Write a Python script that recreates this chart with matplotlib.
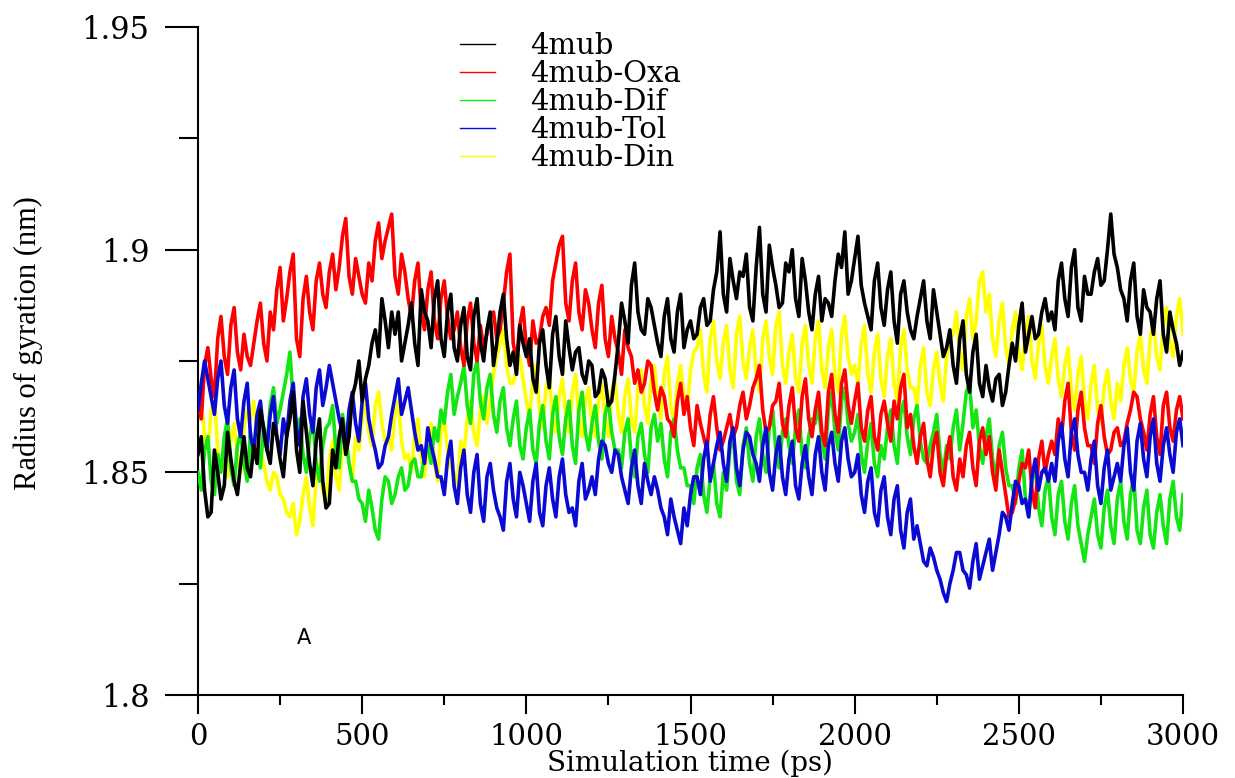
import matplotlib
matplotlib.use("Agg")
import matplotlib.pyplot as plt
from matplotlib.ticker import MultipleLocator

# simulation time (ps), one frame every 10 ps
time_ps = list(range(0, 3001, 10))

rg_4mub = [
    1.854, 1.858, 1.846, 1.840, 1.841, 1.855, 1.850, 1.844, 1.847, 1.859, 1.853, 1.848, 1.845, 1.852, 1.858, 1.851, 1.849, 1.856, 1.852, 1.864,
    1.860, 1.855, 1.852, 1.861, 1.858, 1.853, 1.849, 1.858, 1.862, 1.868, 1.855, 1.850, 1.866, 1.859, 1.852, 1.847, 1.857, 1.862, 1.848, 1.842,
    1.843, 1.855, 1.851, 1.858, 1.862, 1.854, 1.858, 1.867, 1.870, 1.875, 1.866, 1.871, 1.874, 1.879, 1.882, 1.876, 1.889, 1.884, 1.878, 1.886,
    1.881, 1.886, 1.875, 1.879, 1.883, 1.888, 1.879, 1.874, 1.891, 1.886, 1.884, 1.878, 1.889, 1.893, 1.880, 1.876, 1.886, 1.890, 1.878, 1.875,
    1.883, 1.887, 1.876, 1.873, 1.885, 1.889, 1.879, 1.875, 1.882, 1.886, 1.874, 1.879, 1.886, 1.890, 1.880, 1.874, 1.877, 1.872, 1.883, 1.879,
    1.876, 1.880, 1.871, 1.868, 1.879, 1.882, 1.874, 1.869, 1.881, 1.885, 1.876, 1.872, 1.884, 1.878, 1.873, 1.877, 1.878, 1.872, 1.870, 1.875,
    1.874, 1.867, 1.868, 1.873, 1.871, 1.865, 1.866, 1.872, 1.879, 1.888, 1.884, 1.879, 1.892, 1.897, 1.886, 1.882, 1.881, 1.889, 1.887, 1.883,
    1.879, 1.876, 1.885, 1.889, 1.880, 1.877, 1.886, 1.890, 1.878, 1.882, 1.884, 1.880, 1.881, 1.887, 1.889, 1.883, 1.884, 1.891, 1.895, 1.904,
    1.890, 1.886, 1.898, 1.893, 1.889, 1.895, 1.894, 1.899, 1.887, 1.884, 1.896, 1.905, 1.890, 1.886, 1.901, 1.896, 1.892, 1.887, 1.888, 1.897,
    1.895, 1.900, 1.889, 1.885, 1.898, 1.893, 1.886, 1.882, 1.890, 1.894, 1.884, 1.889, 1.888, 1.885, 1.893, 1.899, 1.896, 1.904, 1.890, 1.893,
    1.898, 1.903, 1.892, 1.888, 1.885, 1.882, 1.893, 1.897, 1.887, 1.883, 1.891, 1.895, 1.884, 1.879, 1.890, 1.893, 1.886, 1.882, 1.880, 1.885,
    1.889, 1.893, 1.884, 1.880, 1.891, 1.886, 1.881, 1.876, 1.878, 1.882, 1.874, 1.870, 1.880, 1.884, 1.872, 1.868, 1.877, 1.881, 1.870, 1.867,
    1.874, 1.869, 1.866, 1.871, 1.872, 1.865, 1.868, 1.874, 1.879, 1.875, 1.883, 1.888, 1.877, 1.881, 1.885, 1.880, 1.881, 1.886, 1.889, 1.884,
    1.886, 1.882, 1.893, 1.897, 1.889, 1.885, 1.896, 1.900, 1.887, 1.884, 1.894, 1.890, 1.890, 1.895, 1.898, 1.892, 1.893, 1.900, 1.908, 1.899,
    1.896, 1.891, 1.889, 1.884, 1.893, 1.897, 1.885, 1.881, 1.891, 1.887, 1.886, 1.881, 1.889, 1.893, 1.881, 1.877, 1.886, 1.882, 1.879, 1.874,
    1.877,
]

rg_oxa = [
    1.866, 1.862, 1.874, 1.878, 1.871, 1.867, 1.880, 1.885, 1.876, 1.872, 1.883, 1.887, 1.877, 1.873, 1.881, 1.876, 1.874, 1.879, 1.884, 1.888,
    1.879, 1.875, 1.886, 1.882, 1.891, 1.896, 1.884, 1.889, 1.895, 1.899, 1.880, 1.876, 1.889, 1.894, 1.886, 1.882, 1.893, 1.897, 1.890, 1.887,
    1.895, 1.899, 1.891, 1.896, 1.903, 1.907, 1.894, 1.890, 1.898, 1.894, 1.890, 1.888, 1.897, 1.893, 1.902, 1.906, 1.898, 1.902, 1.905, 1.908,
    1.894, 1.890, 1.899, 1.895, 1.889, 1.885, 1.893, 1.897, 1.886, 1.882, 1.891, 1.895, 1.884, 1.880, 1.889, 1.893, 1.885, 1.880, 1.882, 1.886,
    1.878, 1.874, 1.884, 1.888, 1.879, 1.875, 1.883, 1.878, 1.881, 1.885, 1.886, 1.880, 1.882, 1.888, 1.895, 1.899, 1.879, 1.875, 1.883, 1.887,
    1.878, 1.874, 1.884, 1.879, 1.880, 1.885, 1.887, 1.883, 1.893, 1.897, 1.901, 1.903, 1.888, 1.884, 1.893, 1.897, 1.886, 1.882, 1.891, 1.888,
    1.882, 1.878, 1.888, 1.892, 1.880, 1.876, 1.885, 1.880, 1.877, 1.872, 1.882, 1.878, 1.876, 1.870, 1.873, 1.868, 1.870, 1.875, 1.874, 1.868,
    1.864, 1.869, 1.867, 1.862, 1.861, 1.858, 1.866, 1.870, 1.863, 1.867, 1.860, 1.856, 1.865, 1.861, 1.858, 1.855, 1.863, 1.867, 1.860, 1.855,
    1.857, 1.860, 1.863, 1.858, 1.860, 1.865, 1.868, 1.862, 1.865, 1.869, 1.871, 1.874, 1.864, 1.859, 1.860, 1.865, 1.866, 1.870, 1.861, 1.858,
    1.865, 1.869, 1.860, 1.857, 1.867, 1.871, 1.862, 1.858, 1.864, 1.868, 1.859, 1.856, 1.868, 1.872, 1.863, 1.859, 1.870, 1.873, 1.865, 1.861,
    1.866, 1.870, 1.860, 1.857, 1.864, 1.867, 1.858, 1.855, 1.863, 1.866, 1.861, 1.857, 1.866, 1.862, 1.869, 1.872, 1.860, 1.863, 1.856, 1.852,
    1.858, 1.861, 1.853, 1.849, 1.856, 1.859, 1.850, 1.847, 1.854, 1.858, 1.849, 1.846, 1.853, 1.849, 1.856, 1.859, 1.851, 1.847, 1.857, 1.860,
    1.854, 1.858, 1.850, 1.846, 1.855, 1.850, 1.845, 1.840, 1.841, 1.844, 1.848, 1.852, 1.851, 1.855, 1.846, 1.842, 1.853, 1.857, 1.850, 1.854,
    1.857, 1.854, 1.862, 1.858, 1.866, 1.870, 1.859, 1.855, 1.864, 1.868, 1.860, 1.856, 1.856, 1.852, 1.861, 1.865, 1.858, 1.854, 1.855, 1.859,
    1.860, 1.856, 1.857, 1.861, 1.864, 1.868, 1.867, 1.862, 1.859, 1.855, 1.863, 1.867, 1.858, 1.854, 1.865, 1.868, 1.860, 1.857, 1.864, 1.867,
    1.862,
]

rg_dif = [
    1.850, 1.846, 1.855, 1.858, 1.848, 1.845, 1.854, 1.850, 1.858, 1.862, 1.851, 1.847, 1.856, 1.859, 1.852, 1.848, 1.859, 1.854, 1.855, 1.851,
    1.860, 1.856, 1.865, 1.869, 1.861, 1.864, 1.868, 1.872, 1.877, 1.866, 1.858, 1.862, 1.854, 1.850, 1.858, 1.862, 1.852, 1.848, 1.856, 1.860,
    1.861, 1.865, 1.855, 1.851, 1.863, 1.858, 1.852, 1.848, 1.848, 1.844, 1.843, 1.839, 1.846, 1.842, 1.837, 1.835, 1.844, 1.849, 1.848, 1.843,
    1.845, 1.849, 1.851, 1.846, 1.847, 1.852, 1.853, 1.849, 1.849, 1.854, 1.856, 1.852, 1.860, 1.857, 1.864, 1.861, 1.868, 1.872, 1.863, 1.867,
    1.870, 1.874, 1.865, 1.861, 1.872, 1.875, 1.866, 1.862, 1.869, 1.872, 1.863, 1.859, 1.866, 1.869, 1.860, 1.856, 1.862, 1.866, 1.856, 1.853,
    1.860, 1.864, 1.855, 1.852, 1.861, 1.865, 1.857, 1.853, 1.863, 1.867, 1.858, 1.854, 1.862, 1.866, 1.856, 1.852, 1.864, 1.868, 1.859, 1.855,
    1.861, 1.865, 1.857, 1.853, 1.863, 1.866, 1.859, 1.855, 1.855, 1.851, 1.859, 1.862, 1.853, 1.849, 1.858, 1.861, 1.854, 1.850, 1.860, 1.863,
    1.857, 1.861, 1.853, 1.849, 1.859, 1.862, 1.855, 1.851, 1.851, 1.847, 1.847, 1.843, 1.851, 1.854, 1.845, 1.841, 1.849, 1.852, 1.843, 1.840,
    1.850, 1.846, 1.855, 1.859, 1.848, 1.845, 1.856, 1.860, 1.852, 1.848, 1.858, 1.862, 1.854, 1.850, 1.860, 1.864, 1.855, 1.851, 1.859, 1.862,
    1.856, 1.852, 1.860, 1.864, 1.854, 1.851, 1.858, 1.862, 1.861, 1.865, 1.857, 1.853, 1.864, 1.868, 1.859, 1.855, 1.866, 1.869, 1.861, 1.857,
    1.859, 1.863, 1.854, 1.850, 1.857, 1.861, 1.852, 1.849, 1.856, 1.853, 1.860, 1.864, 1.856, 1.852, 1.863, 1.866, 1.858, 1.854, 1.862, 1.865,
    1.857, 1.853, 1.852, 1.856, 1.859, 1.863, 1.854, 1.850, 1.856, 1.853, 1.860, 1.864, 1.855, 1.861, 1.868, 1.870, 1.860, 1.864, 1.856, 1.852,
    1.858, 1.862, 1.853, 1.849, 1.856, 1.859, 1.851, 1.847, 1.847, 1.843, 1.851, 1.855, 1.844, 1.840, 1.848, 1.852, 1.842, 1.838, 1.846, 1.849,
    1.840, 1.836, 1.845, 1.848, 1.839, 1.835, 1.843, 1.847, 1.838, 1.834, 1.830, 1.836, 1.840, 1.844, 1.836, 1.833, 1.842, 1.846, 1.838, 1.834,
    1.844, 1.848, 1.839, 1.835, 1.845, 1.849, 1.837, 1.834, 1.842, 1.846, 1.836, 1.833, 1.841, 1.845, 1.838, 1.834, 1.844, 1.848, 1.840, 1.837,
    1.845,
]

rg_tol = [
    1.864, 1.870, 1.875, 1.871, 1.867, 1.863, 1.871, 1.875, 1.865, 1.861, 1.869, 1.873, 1.862, 1.858, 1.866, 1.870, 1.858, 1.855, 1.863, 1.866,
    1.859, 1.855, 1.863, 1.867, 1.858, 1.854, 1.862, 1.858, 1.866, 1.870, 1.860, 1.856, 1.867, 1.871, 1.863, 1.859, 1.869, 1.873, 1.865, 1.869,
    1.874, 1.870, 1.866, 1.862, 1.859, 1.855, 1.864, 1.868, 1.861, 1.857, 1.866, 1.870, 1.862, 1.858, 1.855, 1.851, 1.852, 1.856, 1.858, 1.863,
    1.867, 1.871, 1.863, 1.866, 1.869, 1.864, 1.859, 1.855, 1.856, 1.852, 1.860, 1.856, 1.853, 1.849, 1.849, 1.845, 1.853, 1.857, 1.847, 1.843,
    1.851, 1.855, 1.845, 1.841, 1.850, 1.854, 1.843, 1.839, 1.849, 1.852, 1.846, 1.842, 1.840, 1.837, 1.848, 1.852, 1.844, 1.840, 1.850, 1.847,
    1.843, 1.839, 1.848, 1.852, 1.841, 1.838, 1.847, 1.851, 1.844, 1.840, 1.849, 1.853, 1.845, 1.841, 1.842, 1.838, 1.848, 1.852, 1.844, 1.846,
    1.849, 1.845, 1.853, 1.857, 1.856, 1.852, 1.850, 1.855, 1.854, 1.849, 1.846, 1.843, 1.851, 1.855, 1.847, 1.843, 1.852, 1.848, 1.845, 1.849,
    1.846, 1.842, 1.840, 1.836, 1.844, 1.840, 1.837, 1.834, 1.842, 1.838, 1.845, 1.849, 1.849, 1.845, 1.853, 1.857, 1.848, 1.852, 1.856, 1.859,
    1.852, 1.848, 1.857, 1.860, 1.851, 1.847, 1.855, 1.859, 1.858, 1.854, 1.852, 1.848, 1.856, 1.860, 1.850, 1.846, 1.854, 1.858, 1.849, 1.845,
    1.853, 1.857, 1.847, 1.844, 1.852, 1.856, 1.849, 1.845, 1.854, 1.858, 1.850, 1.846, 1.856, 1.859, 1.852, 1.848, 1.857, 1.860, 1.853, 1.849,
    1.850, 1.854, 1.845, 1.841, 1.848, 1.851, 1.841, 1.838, 1.846, 1.849, 1.840, 1.836, 1.844, 1.847, 1.837, 1.833, 1.841, 1.844, 1.835, 1.838,
    1.834, 1.830, 1.829, 1.833, 1.831, 1.828, 1.826, 1.823, 1.821, 1.825, 1.828, 1.832, 1.832, 1.828, 1.827, 1.824, 1.830, 1.834, 1.826, 1.829,
    1.832, 1.835, 1.828, 1.832, 1.836, 1.841, 1.840, 1.837, 1.843, 1.848, 1.847, 1.843, 1.844, 1.840, 1.849, 1.853, 1.846, 1.850, 1.851, 1.848,
    1.852, 1.848, 1.857, 1.861, 1.853, 1.849, 1.859, 1.862, 1.854, 1.850, 1.850, 1.846, 1.853, 1.857, 1.847, 1.843, 1.851, 1.855, 1.846, 1.849,
    1.852, 1.848, 1.856, 1.860, 1.850, 1.846, 1.857, 1.861, 1.853, 1.849, 1.858, 1.862, 1.852, 1.848, 1.856, 1.860, 1.854, 1.850, 1.859, 1.862,
    1.856,
]

rg_din = [
    1.862, 1.866, 1.858, 1.855, 1.864, 1.867, 1.855, 1.851, 1.852, 1.849, 1.857, 1.861, 1.854, 1.850, 1.860, 1.864, 1.862, 1.866, 1.858, 1.855,
    1.852, 1.848, 1.846, 1.850, 1.849, 1.845, 1.844, 1.841, 1.840, 1.843, 1.836, 1.839, 1.845, 1.849, 1.842, 1.838, 1.849, 1.852, 1.846, 1.843,
    1.853, 1.857, 1.849, 1.846, 1.856, 1.859, 1.852, 1.848, 1.858, 1.855, 1.862, 1.866, 1.859, 1.856, 1.865, 1.868, 1.861, 1.857, 1.858, 1.855,
    1.863, 1.866, 1.857, 1.853, 1.854, 1.850, 1.859, 1.862, 1.853, 1.849, 1.857, 1.861, 1.852, 1.848, 1.859, 1.862, 1.855, 1.851, 1.850, 1.847,
    1.857, 1.854, 1.862, 1.866, 1.859, 1.856, 1.864, 1.867, 1.861, 1.866, 1.872, 1.876, 1.879, 1.882, 1.874, 1.870, 1.870, 1.873, 1.876, 1.871,
    1.866, 1.862, 1.871, 1.874, 1.864, 1.860, 1.869, 1.872, 1.862, 1.859, 1.867, 1.871, 1.863, 1.859, 1.868, 1.872, 1.862, 1.858, 1.866, 1.869,
    1.861, 1.858, 1.866, 1.870, 1.862, 1.858, 1.868, 1.871, 1.863, 1.859, 1.867, 1.871, 1.862, 1.859, 1.869, 1.873, 1.865, 1.861, 1.871, 1.874,
    1.866, 1.862, 1.872, 1.876, 1.865, 1.861, 1.870, 1.874, 1.867, 1.864, 1.873, 1.877, 1.878, 1.882, 1.872, 1.868, 1.880, 1.884, 1.875, 1.871,
    1.879, 1.883, 1.873, 1.869, 1.881, 1.885, 1.875, 1.871, 1.878, 1.882, 1.872, 1.868, 1.880, 1.884, 1.876, 1.872, 1.883, 1.886, 1.874, 1.870,
    1.877, 1.881, 1.871, 1.868, 1.879, 1.883, 1.874, 1.870, 1.880, 1.884, 1.873, 1.869, 1.878, 1.882, 1.872, 1.868, 1.881, 1.885, 1.876, 1.872,
    1.874, 1.870, 1.879, 1.883, 1.872, 1.868, 1.877, 1.881, 1.871, 1.867, 1.876, 1.880, 1.870, 1.866, 1.878, 1.882, 1.873, 1.869, 1.869, 1.865,
    1.874, 1.878, 1.868, 1.865, 1.873, 1.877, 1.870, 1.866, 1.876, 1.880, 1.881, 1.886, 1.877, 1.873, 1.885, 1.889, 1.880, 1.884, 1.893, 1.895,
    1.886, 1.890, 1.880, 1.876, 1.884, 1.888, 1.878, 1.874, 1.882, 1.886, 1.877, 1.873, 1.881, 1.885, 1.875, 1.871, 1.879, 1.883, 1.874, 1.870,
    1.876, 1.880, 1.871, 1.867, 1.874, 1.878, 1.868, 1.864, 1.872, 1.876, 1.866, 1.862, 1.870, 1.874, 1.864, 1.861, 1.869, 1.873, 1.866, 1.862,
    1.870, 1.866, 1.874, 1.878, 1.871, 1.868, 1.877, 1.881, 1.873, 1.870, 1.880, 1.884, 1.876, 1.873, 1.883, 1.887, 1.879, 1.876, 1.885, 1.889,
    1.881,
]

labels = ["4mub", "4mub-Oxa", "4mub-Dif", "4mub-Tol", "4mub-Din"]
colors = ["#000000", "#ff0000", "#14e614", "#0a0ad2", "#ffff00"]
series = [rg_4mub, rg_oxa, rg_dif, rg_tol, rg_din]
zorders = [6, 4, 3, 5, 2]

ytick_vals = [1.8, 1.85, 1.9, 1.95]
ytick_labels = ["1.8", "1.85", "1.9", "1.95"]
xtick_vals = [0, 500, 1000, 1500, 2000, 2500, 3000]

serif = "DejaVu Serif"

fig = plt.figure(figsize=(12.35, 7.78), dpi=100)
ax = fig.add_axes([198 / 1235, 1 - 695 / 778, 985 / 1235, 668 / 778])

for vals, lab, col, z in zip(series, labels, colors, zorders):
    ax.plot(time_ps, vals, color=col, lw=2.6, label=lab, zorder=z)

ax.set_xlim(0, 3000)
ax.set_ylim(1.8, 1.95)
ax.set_xticks(xtick_vals)
ax.xaxis.set_minor_locator(MultipleLocator(250))
ax.set_yticks(ytick_vals)
ax.set_yticklabels(ytick_labels)
ax.yaxis.set_minor_locator(MultipleLocator(0.025))

for s in ["top", "right"]:
    ax.spines[s].set_visible(False)
for s in ["left", "bottom"]:
    ax.spines[s].set_linewidth(1.5)

ax.tick_params(axis="y", which="major", direction="out", length=24, width=1.5, pad=11)
ax.tick_params(axis="y", which="minor", direction="out", length=14, width=1.5)
ax.tick_params(axis="x", which="major", direction="out", length=14, width=1.5, pad=6)
ax.tick_params(axis="x", which="minor", direction="out", length=7, width=1.5)
for t in ax.get_yticklabels():
    t.set_fontfamily(serif)
    t.set_fontsize(22)
for t in ax.get_xticklabels():
    t.set_fontfamily(serif)
    t.set_fontsize(21)

fig.text(28 / 1235, 1 - 343 / 778, "Radius of gyration (nm)", rotation=90,
         ha="center", va="center", family="Liberation Serif", fontsize=22)
fig.text(690 / 1235, 1 / 778, "Simulation time (ps)", ha="center",
         va="bottom", family=serif, fontsize=20)
fig.text(304 / 1235, 1 - 638 / 778, "A", ha="center", va="center",
         family="DejaVu Sans", fontsize=15)

handles, labs = ax.get_legend_handles_labels()
leg = ax.legend(handles, labs, loc="upper left",
                bbox_to_anchor=(460 / 1235, 1 - 32 / 778),
                bbox_transform=fig.transFigure, frameon=False,
                prop={"family": serif, "size": 21}, handlelength=1.2,
                handletextpad=1.2, labelspacing=0.0, borderpad=0,
                borderaxespad=0)
for line in leg.get_lines():
    line.set_linewidth(1.0)

fig.savefig("out.png", dpi=100)
